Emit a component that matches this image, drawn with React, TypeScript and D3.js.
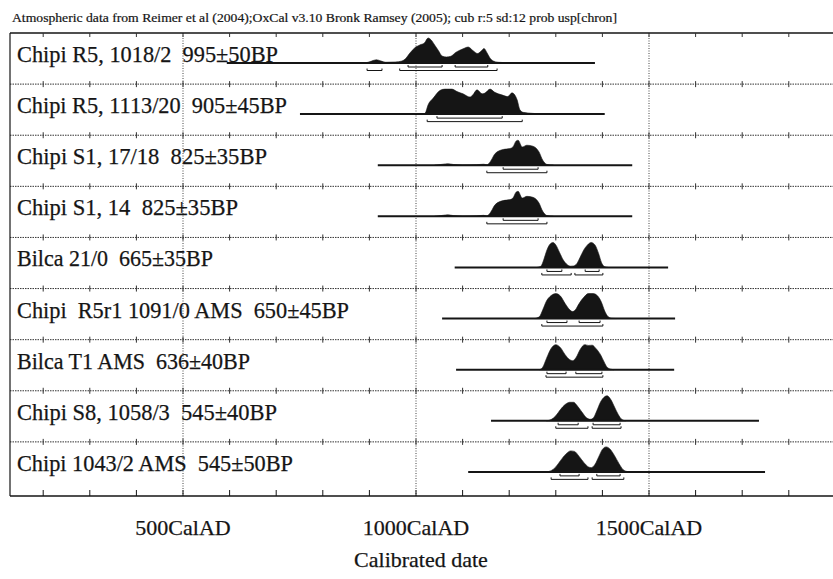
import React from 'react';
import * as d3 from 'd3';

const HEADER = "Atmospheric data from Reimer et al (2004);OxCal v3.10 Bronk Ramsey (2005); cub r:5 sd:12 prob usp[chron]";

const labels = [
  "Chipi R5, 1018/2  995±50BP",
  "Chipi R5, 1113/20  905±45BP",
  "Chipi S1, 17/18  825±35BP",
  "Chipi S1, 14  825±35BP",
  "Bilca 21/0  665±35BP",
  "Chipi  R5r1 1091/0 AMS  650±45BP",
  "Bilca T1 AMS  636±40BP",
  "Chipi S8, 1058/3  545±40BP",
  "Chipi 1043/2 AMS  545±50BP",
];

// extent of the calibration baseline for each sample (cal AD)
const lineRanges: [number, number][] = [
  [594, 1384], [751, 1405], [918, 1464], [918, 1464], [1083, 1541],
  [1056, 1556], [1086, 1554], [1161, 1736], [1112, 1749],
];

// probability density per sample, [cal AD, relative probability]
const d995: [number, number][] = [
  [880, 0], [895, 0.02], [905, 0.08], [915, 0.13], [925, 0.08], [935, 0.03], [955, 0.04], [970, 0.08],
  [978, 0.18], [987, 0.4], [997, 0.6], [1008, 0.72], [1018, 0.8], [1026, 1.0], [1032, 0.93], [1040, 0.72],
  [1048, 0.5], [1056, 0.28], [1065, 0.24], [1075, 0.27], [1085, 0.42], [1095, 0.52], [1105, 0.6],
  [1112, 0.64], [1122, 0.5], [1132, 0.38], [1140, 0.48], [1146, 0.58], [1152, 0.42], [1158, 0.22],
  [1166, 0.08], [1176, 0.03], [1200, 0.01], [1230, 0],
];
const d905: [number, number][] = [
  [1015, 0], [1020, 0.05], [1026, 0.37], [1037, 0.64], [1052, 0.95], [1062, 1.0], [1077, 1.0], [1088, 0.9],
  [1101, 0.81], [1116, 0.68], [1122, 0.77], [1131, 0.97], [1142, 0.81], [1148, 0.84], [1159, 1.0],
  [1169, 0.87], [1184, 0.77], [1197, 0.7], [1206, 0.85], [1217, 0.57], [1223, 0.17], [1230, 0.07],
  [1250, 0.03], [1266, 0.01], [1280, 0],
];
const d825: [number, number][] = [
  [1040, 0], [1058, 0.04], [1068, 0.06], [1080, 0.03], [1100, 0.01], [1130, 0.02], [1145, 0.04],
  [1152, 0.02], [1157, 0.08], [1162, 0.22], [1170, 0.47], [1187, 0.63], [1202, 0.67], [1208, 0.73],
  [1215, 0.97], [1219, 1.0], [1228, 0.73], [1238, 0.8], [1251, 0.76], [1264, 0.53], [1272, 0.2],
  [1281, 0.03], [1295, 0],
];
const d665: [number, number][] = [
  [1260, 0], [1268, 0.05], [1274, 0.3], [1280, 0.65], [1287, 0.92], [1294, 1.0], [1300, 0.9], [1308, 0.6],
  [1316, 0.3], [1324, 0.12], [1332, 0.05], [1338, 0.06], [1345, 0.15], [1352, 0.4], [1360, 0.7],
  [1368, 0.9], [1376, 1.0], [1384, 0.9], [1392, 0.55], [1398, 0.2], [1404, 0.04], [1412, 0],
];
const d650: [number, number][] = [
  [1255, 0], [1265, 0.08], [1272, 0.35], [1280, 0.7], [1290, 0.92], [1300, 1.0], [1310, 0.9], [1320, 0.6],
  [1330, 0.35], [1336, 0.28], [1342, 0.35], [1350, 0.6], [1360, 0.85], [1370, 1.0], [1380, 1.0],
  [1390, 0.9], [1398, 0.65], [1405, 0.3], [1412, 0.08], [1420, 0.01], [1430, 0],
];
const d636: [number, number][] = [
  [1265, 0], [1272, 0.1], [1280, 0.45], [1290, 0.85], [1300, 1.0], [1310, 0.88], [1320, 0.6], [1330, 0.4],
  [1336, 0.36], [1344, 0.5], [1352, 0.8], [1362, 1.0], [1370, 0.97], [1378, 0.98], [1386, 0.85],
  [1396, 0.6], [1404, 0.3], [1410, 0.1], [1418, 0.02], [1425, 0],
];
const d545a: [number, number][] = [
  [1280, 0], [1290, 0.05], [1300, 0.2], [1310, 0.45], [1320, 0.65], [1330, 0.74], [1338, 0.74],
  [1346, 0.6], [1356, 0.35], [1366, 0.12], [1374, 0.06], [1380, 0.1], [1388, 0.4], [1396, 0.75],
  [1404, 0.95], [1410, 1.0], [1418, 0.85], [1426, 0.55], [1434, 0.25], [1442, 0.05], [1450, 0],
];
const d545b: [number, number][] = [
  [1280, 0], [1290, 0.05], [1300, 0.2], [1310, 0.45], [1322, 0.72], [1332, 0.84], [1340, 0.82],
  [1350, 0.62], [1360, 0.38], [1370, 0.2], [1376, 0.17], [1384, 0.3], [1392, 0.6], [1400, 0.9],
  [1408, 1.0], [1416, 0.92], [1426, 0.65], [1436, 0.32], [1444, 0.1], [1452, 0.02], [1460, 0],
];
const densities = [d995, d905, d825, d825, d665, d650, d636, d545a, d545b];

// 68.2% and 95.4% ranges
const ranges68: [number, number][][] = [
  [[983, 1056], [1084, 1154]],
  [[1045, 1185]],
  [[1187, 1262]],
  [[1187, 1262]],
  [[1281, 1313], [1363, 1393]],
  [[1281, 1324], [1350, 1395]],
  [[1281, 1322], [1343, 1399]],
  [[1305, 1348], [1380, 1438]],
  [[1309, 1350], [1388, 1438]],
];
const ranges95: [number, number][][] = [
  [[895, 927], [965, 1174]],
  [[1024, 1228]],
  [[1152, 1281]],
  [[1152, 1281]],
  [[1270, 1333], [1341, 1401]],
  [[1270, 1401]],
  [[1279, 1401]],
  [[1300, 1369], [1378, 1440]],
  [[1290, 1369], [1378, 1446]],
];

const tickYears = d3.range(200, 1900, 100);
const majorYears = [500, 1000, 1500];
const majorLabels = ["500CalAD", "1000CalAD", "1500CalAD"];
const axisTitle = "Calibrated date";

// layout: rendered width of each row label (px)
const labelWidths = [261, 270, 250, 221, 196, 332, 233, 260, 276];

const FONT = "'Liberation Serif', 'Times New Roman', serif";

export default function App() {
  const W = 833, H = 579;
  const left = 10, right = 840, top = 33, axisY = 496;
  const x = d3.scaleLinear().domain([500, 1500]).range([183, 649]);
  const y = d3.scaleBand<number>().domain(d3.range(labels.length)).range([top, 493]);
  const h = d3.scaleLinear().domain([0, 1]).range([0, 25]);
  const ink = "#151515";

  const bracket = (a: number, b: number, yy: number) =>
    `M${x(a)},${yy - 2}V${yy}H${x(b)}V${yy - 2}`;

  return (
    <svg width={W} height={H} style={{ position: 'absolute', left: 0, top: 0, background: '#fff' }}
      fontFamily={FONT}>
      <rect x={0} y={0} width={W} height={H} fill="#fff" />
      <text x={12} y={22} fontSize={12} fill={ink} stroke={ink} strokeWidth={0.2}
        textLength={605} lengthAdjust="spacingAndGlyphs">{HEADER}</text>

      {/* major dotted verticals */}
      {majorYears.map(yr => (
        <line key={'v' + yr} x1={x(yr)} x2={x(yr)} y1={top} y2={axisY} stroke="#444" strokeWidth={1} strokeDasharray="1,1.5" />
      ))}

      {/* row separators */}
      {d3.range(1, labels.length).map(i => {
        const yy = y(i)!;
        return (
          <g key={'sep' + i}>
            <line x1={left} x2={right} y1={yy} y2={yy} stroke="#333" strokeWidth={1} strokeDasharray="1.5,1" />
            {tickYears.map(t => (
              <line key={t} x1={x(t)} x2={x(t)} y1={yy - 3} y2={yy + 3} stroke="#333" strokeWidth={1} />
            ))}
          </g>
        );
      })}

      {/* frame */}
      <line x1={left} x2={right} y1={top} y2={top} stroke={ink} strokeWidth={1.6} />
      {tickYears.map(t => (
        <line key={'tt' + t} x1={x(t)} x2={x(t)} y1={top} y2={top + 4} stroke="#333" strokeWidth={1} />
      ))}
      <line x1={left} x2={left} y1={top} y2={axisY} stroke={ink} strokeWidth={1.2} />
      <line x1={left} x2={right} y1={axisY} y2={axisY} stroke={ink} strokeWidth={1.6} />
      {tickYears.map(t => (
        <line key={'bt' + t} x1={x(t)} x2={x(t)} y1={axisY} y2={axisY - 6} stroke={ink} strokeWidth={1} />
      ))}

      {/* rows */}
      {labels.map((lab, i) => {
        const rt = y(i)!;
        const base = rt + 30;
        const area = d3.area<[number, number]>()
          .x(d => x(d[0]))
          .y0(base)
          .y1(d => base - h(d[1]))
          .curve(d3.curveMonotoneX);
        return (
          <g key={'r' + i}>
            <text x={17} y={rt + 29} fontSize={23} fill={ink} stroke={ink} strokeWidth={0.25}
              textLength={labelWidths[i]} lengthAdjust="spacingAndGlyphs"
              style={{ whiteSpace: 'pre' }}>{lab}</text>
            <path d={area(densities[i]) || ''} fill={ink} stroke={ink} strokeWidth={0.6} />
            <line x1={x(lineRanges[i][0])} x2={x(lineRanges[i][1])} y1={base} y2={base} stroke={ink} strokeWidth={2} />
            {ranges68[i].map((r, k) => (
              <path key={'a' + k} d={bracket(r[0], r[1], base + 4)} fill="none" stroke={ink} strokeWidth={1} />
            ))}
            {ranges95[i].map((r, k) => (
              <path key={'b' + k} d={bracket(r[0], r[1], base + 7.5)} fill="none" stroke={ink} strokeWidth={1} />
            ))}
          </g>
        );
      })}

      {/* axis labels */}
      {majorYears.map((yr, k) => (
        <text key={'ml' + yr} x={x(yr)} y={535} fontSize={22} textAnchor="middle" fill={ink}
          stroke={ink} strokeWidth={0.25}>{majorLabels[k]}</text>
      ))}
      <text x={421} y={567} fontSize={22} textAnchor="middle" fill={ink} stroke={ink} strokeWidth={0.25}>{axisTitle}</text>
    </svg>
  );
}
